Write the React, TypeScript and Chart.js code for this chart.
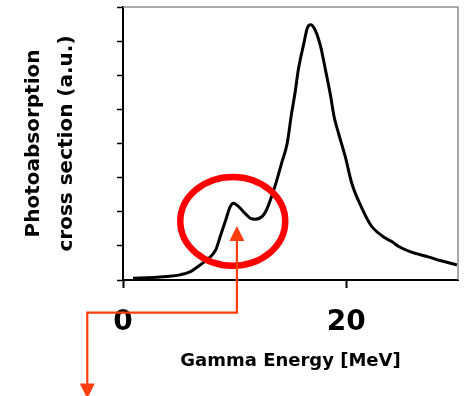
import React, { useEffect, useRef } from "react";
import { Chart, registerables } from "chart.js";

Chart.register(...registerables);

// Gamma energy (MeV) and photoabsorption cross section (a.u.)
const energies = [0.9, 2.7, 3.9, 5.1, 6.0, 6.9, 7.7, 8.3, 8.7, 9.2, 9.6, 9.9, 10.35, 10.9, 11.4, 11.8, 12.7, 13.6, 14.2, 14.7, 15.1, 15.4, 15.7, 16.2, 16.5, 16.8, 17.2, 17.7, 18.1, 18.6, 18.9, 19.3, 19.9, 20.5, 21.4, 22.0, 22.4, 23.3, 24.1, 24.7, 25.7, 27.4, 28.4, 29.9];
const crossSection = [0.05, 0.07, 0.10, 0.15, 0.24, 0.44, 0.64, 0.88, 1.27, 1.76, 2.15, 2.25, 2.15, 1.96, 1.81, 1.78, 1.96, 2.74, 3.42, 4.0, 4.89, 5.47, 6.16, 6.94, 7.38, 7.48, 7.33, 6.84, 6.21, 5.38, 4.79, 4.30, 3.62, 2.82, 2.10, 1.71, 1.52, 1.27, 1.12, 0.98, 0.83, 0.67, 0.57, 0.44];
const xTickValues = [0, 20];
const xTitle = "Gamma Energy [MeV]";
const yTitle = ["Photoabsorption", "cross section (a.u.)"];

// Annotation (data units): highlight ellipse around the pygmy shoulder and arrow
const ellipseCenter = { x: 9.83, y: 1.72 };
const ellipseRadii = { x: 4.7, y: 1.3 };
const arrowPath = [
  { x: 10.2, y: 1.58 },
  { x: 10.2, y: -0.955 },
  { x: -3.2, y: -0.955 },
  { x: -3.2, y: -3.47 },
];

const FONT = "'DejaVu Sans', Verdana, sans-serif";

const decorPlugin = {
  id: "decor",
  beforeDatasetsDraw(chart: any) {
    const { ctx, chartArea: a } = chart;
    ctx.save();
    ctx.strokeStyle = "#8c8c8c";
    ctx.lineWidth = 1.5;
    ctx.beginPath();
    ctx.moveTo(a.left, a.top);
    ctx.lineTo(a.right, a.top);
    ctx.lineTo(a.right, a.bottom);
    ctx.stroke();
    ctx.restore();
  },
  afterDraw(chart: any) {
    const { ctx } = chart;
    const xs = chart.scales.x;
    const ys = chart.scales.y;
    ctx.save();
    // ellipse
    const cx = xs.getPixelForValue(ellipseCenter.x);
    const cy = ys.getPixelForValue(ellipseCenter.y);
    const rx = Math.abs(xs.getPixelForValue(ellipseCenter.x + ellipseRadii.x) - cx);
    const ry = Math.abs(ys.getPixelForValue(ellipseCenter.y + ellipseRadii.y) - cy);
    ctx.strokeStyle = "#ff0000";
    ctx.lineWidth = 6.5;
    ctx.beginPath();
    ctx.ellipse(cx, cy, rx, ry, 0, 0, Math.PI * 2);
    ctx.stroke();

    // arrow
    const pts = arrowPath.map((p) => ({ x: xs.getPixelForValue(p.x), y: ys.getPixelForValue(p.y) }));
    const color = "#ff3d0d";
    const headLen = 15;
    const headHalf = 7.5;
    ctx.strokeStyle = color;
    ctx.fillStyle = color;
    ctx.lineWidth = 2.2;
    ctx.beginPath();
    ctx.moveTo(pts[0].x, pts[0].y + headLen - 1);
    for (let i = 1; i < pts.length - 1; i++) ctx.lineTo(pts[i].x, pts[i].y);
    const last = pts[pts.length - 1];
    ctx.lineTo(last.x, last.y - headLen + 1);
    ctx.stroke();
    // up head
    ctx.beginPath();
    ctx.moveTo(pts[0].x, pts[0].y);
    ctx.lineTo(pts[0].x - headHalf, pts[0].y + headLen);
    ctx.lineTo(pts[0].x + headHalf, pts[0].y + headLen);
    ctx.closePath();
    ctx.fill();
    // down head
    ctx.beginPath();
    ctx.moveTo(last.x, last.y);
    ctx.lineTo(last.x - headHalf, last.y - headLen);
    ctx.lineTo(last.x + headHalf, last.y - headLen);
    ctx.closePath();
    ctx.fill();
    ctx.restore();
  },
};

export default function App() {
  const ref = useRef<HTMLCanvasElement | null>(null);

  useEffect(() => {
    if (!ref.current) return;
    const chart = new Chart(ref.current, {
      type: "line",
      data: {
        datasets: [
          {
            data: energies.map((e, i) => ({ x: e, y: crossSection[i] })),
            borderColor: "#000000",
            borderWidth: 3,
            pointRadius: 0,
            cubicInterpolationMode: "monotone",
            fill: false,
          },
        ],
      },
      options: {
        animation: false,
        responsive: false,
        devicePixelRatio: 1,
        layout: { padding: { top: 7, right: 7, left: 0, bottom: 0 } },
        plugins: { legend: { display: false }, tooltip: { enabled: false }, title: { display: false } },
        scales: {
          x: {
            type: "linear",
            position: "bottom",
            min: 0,
            max: 30,
            afterFit: (s: any) => {
              s.height = 116;
            },
            afterBuildTicks: (s: any) => {
              s.ticks = xTickValues.map((v) => ({ value: v }));
            },
            grid: { drawOnChartArea: false, drawTicks: true, tickLength: 8, tickWidth: 2, tickColor: "#000" },
            border: { color: "#000", width: 2 },
            ticks: {
              color: "#000",
              padding: 18,
              maxRotation: 0,
              autoSkip: false,
              font: { family: FONT, size: 28, weight: "bold" },
            },
            title: {
              display: true,
              text: xTitle,
              color: "#000",
              font: { family: FONT, size: 18, weight: "bold" },
              padding: { top: 0, bottom: 24 },
            },
          },
          y: {
            type: "linear",
            position: "left",
            min: 0,
            max: 8,
            afterFit: (s: any) => {
              s.width = 123;
            },
            grid: { drawOnChartArea: false, drawTicks: true, tickLength: 6, tickWidth: 1.5, tickColor: "#000" },
            border: { color: "#000", width: 2 },
            ticks: { display: false, stepSize: 1 },
            title: {
              display: true,
              text: yTitle,
              color: "#000",
              font: { family: FONT, size: 20, weight: "bold", lineHeight: "33.5px" },
              padding: { top: 16.75, bottom: 0 },
            },
          },
        },
      } as any,
      plugins: [decorPlugin],
    });
    return () => chart.destroy();
  }, []);

  return (
    <div style={{ position: "fixed", left: 0, top: 0, width: 465, height: 396, background: "#fff" }}>
      <canvas ref={ref} width={465} height={396} style={{ display: "block", width: 465, height: 396 }} />
    </div>
  );
}
